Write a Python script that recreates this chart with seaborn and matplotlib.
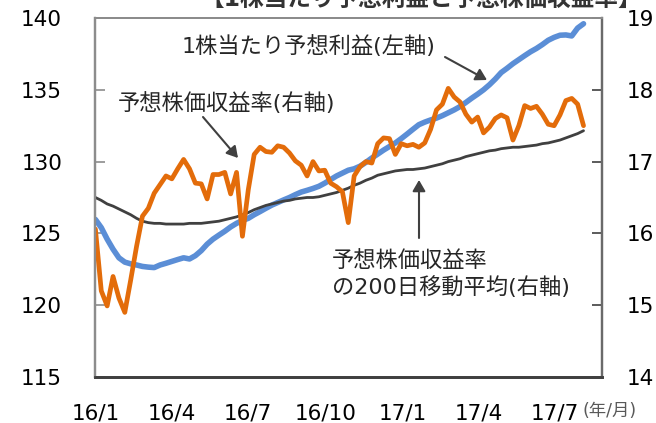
import pandas as pd
import matplotlib.pyplot as plt
import seaborn as sns

# weekly readings, starting 2016-01-01
start_date = '2016-01-01'

# 1株当たり予想利益 (left axis)
eps = [125.97, 125.4, 124.6, 123.9, 123.3, 123.0, 122.88, 122.8, 122.7, 122.65,
       122.62, 122.8, 122.92, 123.05, 123.18, 123.3, 123.22, 123.45, 123.8, 124.25,
       124.6, 124.88, 125.15, 125.45, 125.7, 125.9, 126.05, 126.3, 126.52, 126.75,
       126.97, 127.15, 127.33, 127.5, 127.7, 127.88, 128.0, 128.13, 128.28, 128.5,
       128.75, 129.0, 129.2, 129.4, 129.5, 129.68, 129.95, 130.25, 130.52, 130.8,
       131.05, 131.3, 131.6, 131.92, 132.25, 132.57, 132.75, 132.9, 133.03, 133.2,
       133.4, 133.6, 133.83, 134.12, 134.42, 134.7, 135.0, 135.35, 135.75, 136.2,
       136.5, 136.82, 137.1, 137.38, 137.65, 137.88, 138.15, 138.45, 138.65, 138.8,
       138.82, 138.75, 139.3, 139.6]

# 予想株価収益率 (right axis)
per = [16.06, 15.2, 14.99, 15.4, 15.1, 14.9, 15.35, 15.82, 16.24, 16.35,
       16.56, 16.68, 16.8, 16.76, 16.9, 17.03, 16.9, 16.7, 16.69, 16.48,
       16.82, 16.82, 16.85, 16.55, 16.85, 15.96, 16.61, 17.1, 17.2, 17.14,
       17.13, 17.22, 17.2, 17.12, 17.01, 16.95, 16.8, 17.0, 16.87, 16.88,
       16.7, 16.65, 16.58, 16.15, 16.8, 16.93, 17.0, 16.98, 17.25, 17.33,
       17.32, 17.1, 17.25, 17.22, 17.24, 17.2, 17.26, 17.45, 17.72, 17.8,
       18.02, 17.9, 17.83, 17.66, 17.55, 17.62, 17.4, 17.48, 17.6, 17.65,
       17.61, 17.3, 17.5, 17.78, 17.74, 17.77, 17.66, 17.52, 17.5, 17.65,
       17.85, 17.88, 17.8, 17.5]

# 予想株価収益率の200日移動平均 (right axis)
per_ma200 = [16.5, 16.46, 16.41, 16.38, 16.34, 16.3, 16.26, 16.21, 16.17, 16.15,
             16.14, 16.14, 16.13, 16.13, 16.13, 16.13, 16.14, 16.14, 16.14, 16.15,
             16.16, 16.17, 16.19, 16.21, 16.23, 16.26, 16.29, 16.33, 16.36, 16.39,
             16.41, 16.43, 16.45, 16.46, 16.48, 16.49, 16.5, 16.5, 16.51, 16.53,
             16.55, 16.57, 16.6, 16.63, 16.67, 16.7, 16.74, 16.77, 16.81, 16.83,
             16.85, 16.87, 16.88, 16.89, 16.89, 16.9, 16.91, 16.93, 16.95, 16.97,
             17.0, 17.02, 17.04, 17.07, 17.09, 17.11, 17.13, 17.15, 17.16, 17.18,
             17.19, 17.2, 17.2, 17.21, 17.22, 17.23, 17.25, 17.26, 17.28, 17.3,
             17.33, 17.36, 17.39, 17.43]

tick_dates = ['2016-01-01', '2016-04-01', '2016-07-01', '2016-10-01',
              '2017-01-01', '2017-04-01', '2017-07-01']
tick_labels = ['16/1', '16/4', '16/7', '16/10', '17/1', '17/4', '17/7']
left_ticks = [115, 120, 125, 130, 135, 140]
right_ticks = [14, 15, 16, 17, 18, 19]

BLUE = '#5B8ED6'
ORANGE = '#E36C0A'
DARK = '#404040'

W, H = 656, 423


def px(x, y):
    # pixel position (from top-left) -> figure fraction
    return x / W, 1 - y / H


sns.set_theme(style='white')
plt.rcParams['font.family'] = ['DejaVu Sans', 'Noto Sans CJK JP']

df = pd.DataFrame({
    'date': pd.date_range(start_date, periods=len(eps), freq='7D'),
    'eps': eps,
    'per': per,
    'ma': per_ma200,
})

fig = plt.figure(figsize=(W / 100, H / 100), dpi=100)
ax = fig.add_axes([95.4 / W, 1 - 377 / H, (602 - 95.4) / W, (377 - 18) / H])
ax2 = ax.twinx()

sns.lineplot(data=df, x='date', y='eps', ax=ax, color=BLUE, lw=4.0,
             solid_capstyle='round', solid_joinstyle='round')
sns.lineplot(data=df, x='date', y='ma', ax=ax2, color=DARK, lw=2.0,
             solid_joinstyle='round')
sns.lineplot(data=df, x='date', y='per', ax=ax2, color=ORANGE, lw=3.4,
             solid_joinstyle='round')

ax.set_xlim(pd.Timestamp('2016-01-01'), pd.Timestamp('2017-08-26'))
ax.set_ylim(115, 140)
ax2.set_ylim(14, 19)
ax.set_xticks(pd.to_datetime(tick_dates))
ax.set_xticklabels(tick_labels)
ax.set_yticks(left_ticks)
ax2.set_yticks(right_ticks)
for a in (ax, ax2):
    a.set_xlabel('')
    a.set_ylabel('')

ax.tick_params(axis='x', direction='in', length=7, width=1.2, color=DARK,
               labelsize=15.5, pad=19, labelcolor='black')
ax.tick_params(axis='y', direction='in', length=7, width=1.2, color='#8c8c8c',
               labelsize=15.5, pad=24, labelcolor='black')
ax2.tick_params(axis='y', direction='in', length=7, width=1.2, color=DARK,
                labelsize=15.5, pad=18, labelcolor='black')

for a in (ax, ax2):
    a.spines['top'].set_color('#8c8c8c')
    a.spines['top'].set_linewidth(1.4)
    a.spines['left'].set_color('#8c8c8c')
    a.spines['left'].set_linewidth(1.6)
    a.spines['bottom'].set_color(DARK)
    a.spines['bottom'].set_linewidth(2)
    a.spines['right'].set_color('#6a6a6a')
    a.spines['right'].set_linewidth(1.6)

# unit label
fig.text(*px(582, 411), '(年/月)', fontsize=12.5, color='#595959',
         ha='left', va='center')

# title (cut off at the top edge, as in the source)
fig.text(*px(421, -1), '【1株当たり予想利益と予想株価収益率】', fontsize=17,
         fontweight='bold', color='#333333', ha='center', va='center')

arrow = dict(arrowstyle='-|>,head_length=0.55,head_width=0.32',
             color=DARK, lw=1.5, shrinkA=0, shrinkB=0)

fig.text(*px(182, 46), '1株当たり予想利益(左軸)', fontsize=16, ha='left', va='center')
ax.annotate('', xy=px(487, 80), xytext=px(445, 57),
            xycoords='figure fraction', textcoords='figure fraction', arrowprops=arrow)

fig.text(*px(118, 103), '予想株価収益率(右軸)', fontsize=16, ha='left', va='center')
ax.annotate('', xy=px(238, 158), xytext=px(203, 117),
            xycoords='figure fraction', textcoords='figure fraction', arrowprops=arrow)

fig.text(*px(332, 274), '予想株価収益率\nの200日移動平均(右軸)', fontsize=16,
         ha='left', va='center', linespacing=1.25)
ax.annotate('', xy=px(419, 180), xytext=px(419, 238),
            xycoords='figure fraction', textcoords='figure fraction', arrowprops=arrow)

fig.savefig('out.png', dpi=100)
